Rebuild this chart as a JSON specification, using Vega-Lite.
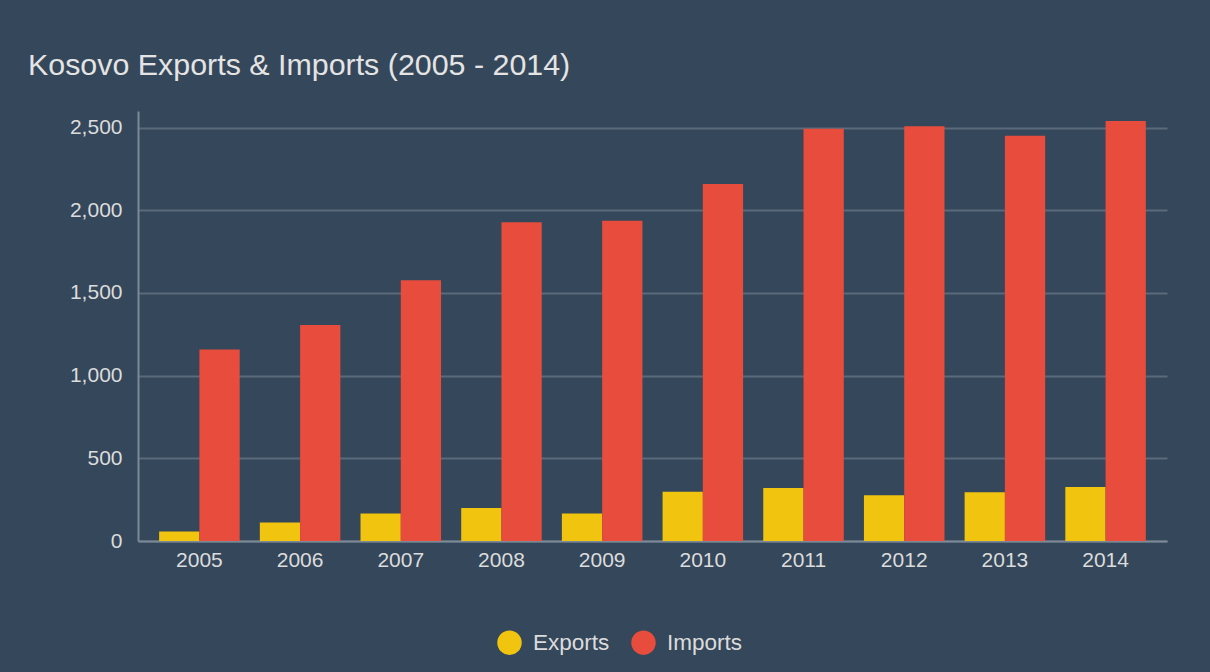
{
  "$schema": "https://vega.github.io/schema/vega-lite/v6.json",
  "width": 1029,
  "height": 430,
  "autosize": {"type": "none"},
  "padding": {"left": 138, "top": 111, "right": 43, "bottom": 131},
  "background": "#35475b",
  "title": {
    "text": "Kosovo Exports & Imports (2005 - 2014)",
    "anchor": "start",
    "frame": "group",
    "dx": -110,
    "offset": 30,
    "font": "Liberation Sans",
    "fontSize": 30.4,
    "fontWeight": "normal",
    "color": "#e4e4e4"
  },
  "data": {
    "values": [
      {"year": "2005", "type": "Exports", "value": 57},
      {"year": "2005", "type": "Imports", "value": 1158},
      {"year": "2006", "type": "Exports", "value": 112},
      {"year": "2006", "type": "Imports", "value": 1306},
      {"year": "2007", "type": "Exports", "value": 166},
      {"year": "2007", "type": "Imports", "value": 1577},
      {"year": "2008", "type": "Exports", "value": 200},
      {"year": "2008", "type": "Imports", "value": 1928},
      {"year": "2009", "type": "Exports", "value": 166},
      {"year": "2009", "type": "Imports", "value": 1936},
      {"year": "2010", "type": "Exports", "value": 298},
      {"year": "2010", "type": "Imports", "value": 2158},
      {"year": "2011", "type": "Exports", "value": 320},
      {"year": "2011", "type": "Imports", "value": 2493},
      {"year": "2012", "type": "Exports", "value": 277},
      {"year": "2012", "type": "Imports", "value": 2508},
      {"year": "2013", "type": "Exports", "value": 295},
      {"year": "2013", "type": "Imports", "value": 2450},
      {"year": "2014", "type": "Exports", "value": 326},
      {"year": "2014", "type": "Imports", "value": 2539}
    ]
  },
  "mark": {"type": "bar"},
  "encoding": {
    "x": {
      "field": "year",
      "type": "nominal",
      "title": null,
      "scale": {"paddingInner": 0.2, "paddingOuter": 0.21},
      "axis": {
        "labelAngle": 0,
        "labelFont": "Liberation Sans",
        "labelFontSize": 21,
        "labelColor": "#dcdcdc",
        "labelPadding": 8,
        "ticks": false,
        "domainColor": "#7d8996",
        "domainWidth": 2,
        "grid": false
      }
    },
    "xOffset": {"field": "type", "type": "nominal", "scale": {"paddingInner": 0, "paddingOuter": 0}},
    "y": {
      "field": "value",
      "type": "quantitative",
      "title": null,
      "scale": {"domain": [0, 2600], "nice": false},
      "axis": {
        "values": [0, 500, 1000, 1500, 2000, 2500],
        "format": ",.0f",
        "labelFont": "Liberation Sans",
        "labelFontSize": 21,
        "labelColor": "#dcdcdc",
        "labelPadding": 16,
        "ticks": false,
        "domainColor": "#7d8996",
        "domainWidth": 2,
        "gridColor": "#5a6a7a",
        "gridWidth": 2
      }
    },
    "color": {
      "field": "type",
      "type": "nominal",
      "scale": {"domain": ["Exports", "Imports"], "range": ["#f1c40f", "#e74c3c"]},
      "legend": {
        "title": null,
        "orient": "none",
        "direction": "horizontal",
        "legendX": 359,
        "legendY": 519,
        "symbolType": "circle",
        "symbolSize": 600,
        "symbolStrokeWidth": 0,
        "symbolOpacity": 1,
        "labelFont": "Liberation Sans",
        "labelFontSize": 22.5,
        "labelColor": "#dcdcdc",
        "labelOffset": 11,
        "columnPadding": 21
      }
    }
  },
  "config": {
    "view": {"stroke": null},
    "axis": {"gridOpacity": 1}
  }
}
